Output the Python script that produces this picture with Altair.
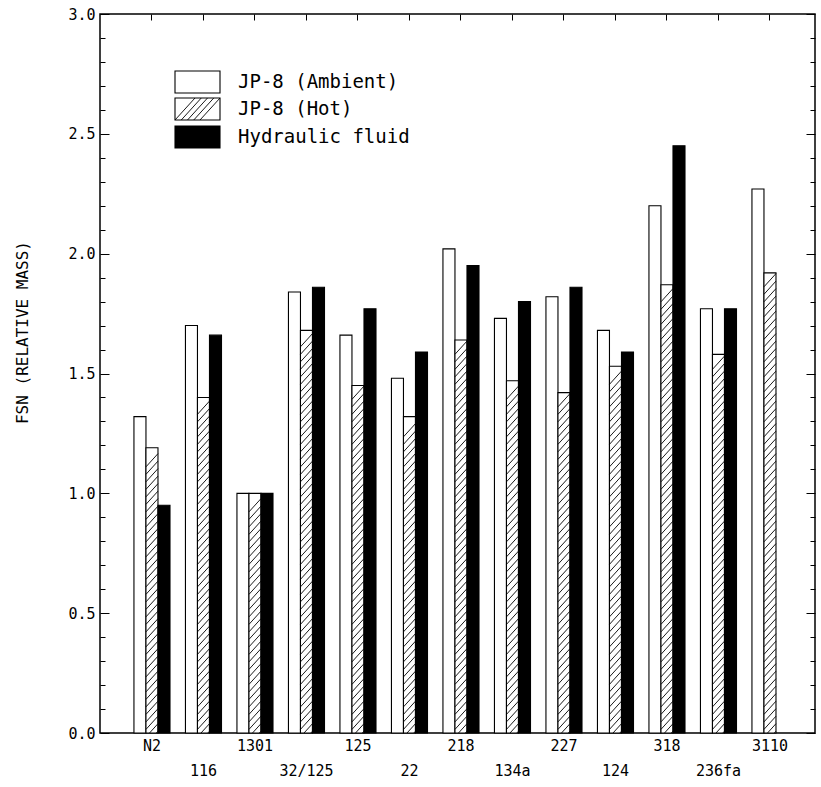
import altair as alt
import pandas as pd

# ---------------- data ----------------
categories = ["N2", "116", "1301", "32/125", "125", "22", "218",
              "134a", "227", "124", "318", "236fa", "3110"]
series = ["JP-8 (Ambient)", "JP-8 (Hot)", "Hydraulic fluid"]
ambient = [1.32, 1.70, 1.00, 1.84, 1.66, 1.48, 2.02, 1.73, 1.82, 1.68, 2.20, 1.77, 2.27]
hot = [1.19, 1.40, 1.00, 1.68, 1.45, 1.32, 1.64, 1.47, 1.42, 1.53, 1.87, 1.58, 1.92]
hydraulic = [0.95, 1.66, 1.00, 1.86, 1.77, 1.59, 1.95, 1.80, 1.86, 1.59, 2.45, 1.77, None]
y_tick_values = [0.0, 0.5, 1.0, 1.5, 2.0, 2.5, 3.0]
lower_row_labels = ["116", "32/125", "22", "134a", "124", "236fa"]
y_title = "FSN (RELATIVE MASS)"

rows = []
for s, vals in zip(series, [ambient, hot, hydraulic]):
    for c, v in zip(categories, vals):
        if v is not None:
            rows.append({"category": c, "series": s, "value": v})
df = pd.DataFrame(rows)

# ---------------- layout ----------------
W, H = 715, 719
FONT = "DejaVu Sans Mono"

xscale = alt.Scale(domain=categories, paddingInner=0.3, paddingOuter=0.5917, align=0.557)
yscale = alt.Scale(domain=[0, 3], nice=False, zero=True)
offscale = alt.Scale(domain=series)

low_test = "indexof(" + str(lower_row_labels) + ", datum.value) >= 0"
major_test = "abs(datum.value * 2 - round(datum.value * 2)) < 0.001"

bars = alt.Chart(df).mark_bar(stroke="black", strokeWidth=1.1).encode(
    x=alt.X("category:N", sort=categories, scale=xscale,
            axis=alt.Axis(title=None, ticks=False, domain=False, labelAngle=0, grid=False,
                          labelFont=FONT, labelFontSize=15, labelColor="black",
                          labelPadding={"condition": {"test": low_test, "value": 30}, "value": 5})),
    xOffset=alt.XOffset("series:N", sort=series, scale=offscale),
    y=alt.Y("value:Q", scale=yscale,
            axis=alt.Axis(values=y_tick_values, format=".1f", ticks=False, domain=False, grid=False,
                          labelFont=FONT, labelFontSize=15, labelColor="black", labelPadding=5,
                          title=y_title, titleFont=FONT, titleFontSize=16, titleFontWeight="normal",
                          titleColor="black", titleX=-78, titleY=318, titleAlign="center",
                          titleBaseline="middle", titleAngle=270)),
    fill=alt.Fill("series:N", scale=alt.Scale(domain=series, range=["white", "white", "black"]),
                  legend=None),
)

hatch = alt.Chart(df).transform_filter(
    alt.datum.series == series[1]
).transform_calculate(
    hy="sequence(-0.02, datum.value - 0.027, 0.0313)"
).transform_flatten(["hy"]).mark_point(
    shape="M-1,1.1L1,-1.1", size=144, filled=False, color="black",
    strokeWidth=0.9, opacity=1, clip=True
).encode(
    x=alt.X("category:N", sort=categories, scale=xscale, axis=None),
    xOffset=alt.XOffset("series:N", sort=series, scale=offscale),
    y=alt.Y("hy:Q", scale=yscale, axis=None),
)

minor_vals = [i / 10 for i in range(31)]
tick_size = {"condition": {"test": major_test, "value": 9}, "value": 5}

ticks_left = alt.Chart(df).mark_point(opacity=0).encode(
    y=alt.Y("value:Q", scale=yscale,
            axis=alt.Axis(orient="right", offset=-W, values=minor_vals, labels=False, grid=False,
                          domain=False, title=None, tickColor="black", tickWidth=1,
                          tickSize=tick_size))
)
ticks_right = alt.Chart(df).mark_point(opacity=0).encode(
    y=alt.Y("value:Q", scale=yscale,
            axis=alt.Axis(orient="left", offset=-W, values=minor_vals, labels=False, grid=False,
                          domain=False, title=None, tickColor="black", tickWidth=1,
                          tickSize=tick_size))
)
ticks_top = alt.Chart(df).mark_point(opacity=0).encode(
    x=alt.X("category:N", sort=categories, scale=xscale,
            axis=alt.Axis(orient="bottom", offset=-H, labels=False, domain=False, grid=False,
                          title=None, tickColor="black", tickWidth=1, tickSize=6)),
    y=alt.Y("value:Q", scale=yscale, axis=None),
)

# ---------------- legend ----------------
dummy = pd.DataFrame({"d": [0]})
box_rows = [(57, 79, "white"), (84, 106, "white"), (112, 134, "black")]
legend_layers = []
for (y0, y1, f), label in zip(box_rows, series):
    legend_layers.append(
        alt.Chart(dummy).mark_rect(fill=f, stroke="black", strokeWidth=1.1).encode(
            x=alt.value(75), x2=alt.value(120), y=alt.value(y0), y2=alt.value(y1))
    )
    legend_layers.append(
        alt.Chart(dummy).mark_text(text=label, font=FONT, fontSize=19, align="left",
                                   baseline="middle", color="black").encode(
            x=alt.value(138), y=alt.value((y0 + y1) / 2))
    )
legend_hatch = alt.Chart(alt.sequence(0, 5, 1, as_="k")).transform_calculate(
    px="85 + datum.k * 6.25"
).mark_point(shape="M-1,1.1L1,-1.1", size=400, filled=False, color="black",
             strokeWidth=0.9, opacity=1).encode(
    x=alt.X("px:Q", scale=None), y=alt.value(95)
)

chart = alt.layer(
    bars, hatch, ticks_left, ticks_right, ticks_top, *legend_layers, legend_hatch
).resolve_axis(x="independent", y="independent").properties(
    width=W, height=H,
    autosize=alt.AutoSizeParams(type="none"),
    padding={"left": 100, "top": 14, "right": 6, "bottom": 54},
    background="white",
).configure_view(stroke="black", strokeWidth=1.5).configure_axis(grid=False)

chart.save("out.html", embed_options={"renderer": "svg", "actions": False})
